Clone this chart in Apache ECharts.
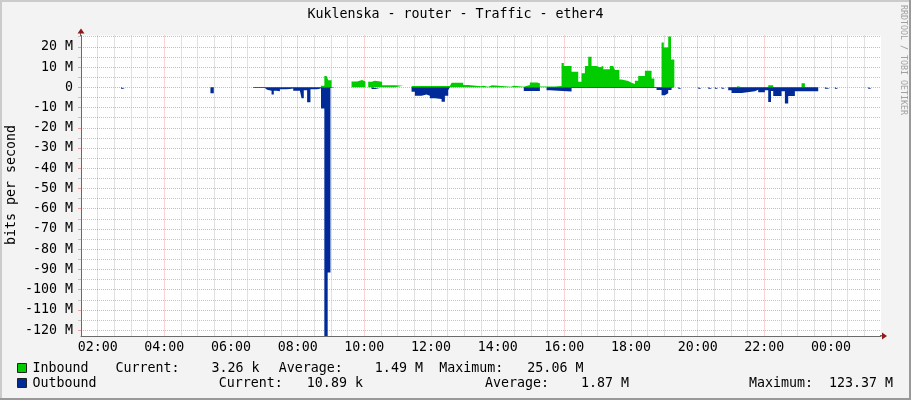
<!DOCTYPE html>
<html><head><meta charset="utf-8">
<script src="https://cdn.jsdelivr.net/npm/echarts@6/dist/echarts.min.js"></script>
<style>html,body{margin:0;padding:0;background:#F3F3F3}#c{width:911px;height:400px}</style>
</head><body><div id="c"></div>
<script>
// ---------- data ----------
const chartTitle = 'Kuklenska - router - Traffic - ether4';
const yAxisTitle = 'bits per second';
const watermark = 'RRDTOOL / TOBI OETIKER';
const windowStart = '01:30';           // 24 h window, 01:30 -> 01:30 next day
const xMajorLabels = ['02:00','04:00','06:00','08:00','10:00','12:00','14:00','16:00','18:00','20:00','22:00','00:00'];
const yMajorValues = [20,10,0,-10,-20,-30,-40,-50,-60,-70,-80,-90,-100,-110,-120];  // M bits/s
const yMinorValues = [25,15,5,-5,-15,-25,-35,-45,-55,-65,-75,-85,-95,-105,-115];
const yMax = 25.6, yMin = -122.9;

// step breakpoints: [time, value in Mbit/s] value holds until next point
const inbound = [
 ['01:30',0],
 ['08:42',0.8],['08:48',5.6],['08:52',5.2],['08:55',3.5],['09:01',0],
 ['09:37',2.9],['09:47',3.0],['09:50',3.6],['09:56',2.9],['10:02',0],
 ['10:07',2.7],['10:13',3.3],['10:19',2.8],['10:32',1.0],['10:55',0.8],['11:10',0],
 ['11:25',0.6],['12:34',0.6],['12:37',2.2],['12:58',1.1],['13:07',0.5],['13:30',0.8],['13:34',0.3],
 ['13:43',1.0],['13:50',0.3],['14:24',0.8],['14:29',0.3],['14:47',1.2],['14:58',2.4],['15:11',2.0],
 ['15:16',0.4],['15:43',0.7],
 ['15:55',12.0],['15:59',10.5],['16:13',7.7],['16:25',2.8],['16:31',6.9],['16:37',10.5],['16:43',15.1],
 ['16:49',10.5],['16:58',9.9],['17:04',10.5],['17:10',8.9],['17:22',10.5],['17:28',9.9],['17:31',8.6],
 ['17:39',3.9],['17:43',3.1],['17:55',2.3],['18:01',1.6],['18:07',3.3],['18:13',5.6],['18:25',8.2],
 ['18:37',4.4],['18:42',0],
 ['18:55',22.2],['18:59',19.7],['19:07',25.06],['19:12',13.8],['19:18',0],
 ['21:11',0.5],['21:18',0],['22:07',1.0],['22:16',0],['23:07',2.0],['23:13',0]
];
const outbound = [
 ['01:30',0],['02:42',-0.7],['02:49',0],
 ['05:23',-3.0],['05:29',0],
 ['06:40',-0.4],['07:01',-1.2],['07:05',-1.7],['07:13',-3.5],['07:17',-1.7],['07:22',-2.0],['07:28',-1.0],
 ['07:39',-0.8],['07:46',-0.6],['07:52',-1.7],['08:04',-1.0],['08:07',-5.4],['08:11',-1.5],['08:17',-7.4],
 ['08:23',-1.0],['08:34',-0.8],['08:38',-0.5],['08:42',-10.5],['08:48',-123.37],['08:54',-91.5],
 ['08:59',-0.4],['09:07',0],
 ['10:13',-0.8],['10:28',0],
 ['11:25',-2.2],['11:31',-4.2],['11:43',-3.5],['11:52',-4.2],['11:58',-5.4],['12:07',-5.8],['12:19',-7.1],
 ['12:25',-4.2],['12:31',-1.5],['12:34',0],
 ['14:47',-1.8],['15:16',0],['15:28',-1.4],['15:34',-1.7],['15:49',-2.1],['16:13',-0.3],
 ['18:46',-1.3],['18:55',-3.9],['19:01',-3.0],['19:07',-1.3],['19:13',-0.3],['19:18',0],
 ['19:25',-0.7],['19:31',0],
 ['20:01',-0.7],['20:07',0],['20:19',-0.7],['20:26',0],['20:31',-0.7],['20:37',0],['20:43',-0.7],['20:49',0],
 ['20:55',-1.5],['21:01',-2.8],['21:19',-2.0],['21:43',-1.2],['21:49',-2.5],['22:01',-1.5],['22:07',-7.3],
 ['22:12',-1.8],['22:16',-4.3],['22:31',-2.0],['22:37',-8.0],['22:43',-4.3],['22:55',-2.0],['23:37',0],
 ['23:49',-0.7],['23:58',0],['00:07',-0.7],['00:13',0],['01:07',-0.7],['01:13',0]
];
const legendRows = [
 {name:'Inbound',  color:'#00CC00', current:'Current:    3.26 k', average:'Average:    1.49 M', maximum:'Maximum:   25.06 M'},
 {name:'Outbound', color:'#002A97', current:'Current:   10.89 k', average:'Average:    1.87 M', maximum:'Maximum:  123.37 M'}
];

// ---------- helpers ----------
function toMinRaw(s){ const [h,m]=s.split(':').map(Number); return h*60+m; }
function toMin(s){ let v=toMinRaw(s); if(v<toMinRaw(windowStart)) v+=1440; return v; }
const xStart = toMinRaw(windowStart), xEnd = xStart + 1440;
// zero spans become gaps (null) so no degenerate area is drawn
function series(points){
  const d=[]; let prev=0;
  points.forEach(p=>{
    const t=toMin(p[0]), v=p[1];
    if(v===0){ if(prev!==0) d.push([t,prev]); d.push([t,null]); }
    else d.push([t,v]);
    prev=v;
  });
  if(prev!==0) d.push([xEnd,prev]);
  return d;
}
const xMajor = xMajorLabels.map(toMin);
const xMinor = []; for(let t=xStart+30; t<xEnd; t+=30){ if(xMajor.indexOf(t)<0) xMinor.push(t); }
function fmtTime(v){ const m=((v%1440)+1440)%1440; const h=Math.floor(m/60); return (h<10?'0':'')+h+':00'; }

const FONT = '"DejaVu Sans Mono", monospace';
const FS = 13.3;
const majorColor = 'rgba(235,0,0,0.35)';
const minorColor = '#C4C4C4';
const axisColor = '#6A6A6A';
const arrowColor = '#8E1A1A';

const chart = echarts.init(document.getElementById('c'), null, {renderer:'canvas'});

const graphic = [
 {type:'rect', shape:{x:0,y:0,width:911,height:2}, style:{fill:'#CBCBCB'}, silent:true},
 {type:'rect', shape:{x:0,y:0,width:2,height:400}, style:{fill:'#CBCBCB'}, silent:true},
 {type:'rect', shape:{x:0,y:398,width:911,height:2}, style:{fill:'#999999'}, silent:true},
 {type:'rect', shape:{x:909,y:0,width:2,height:400}, style:{fill:'#999999'}, silent:true},
 {type:'text', x:455.5, y:14.5, style:{text:chartTitle, font:FS+'px '+FONT, fill:'#000', align:'center', verticalAlign:'middle'}},
 {type:'text', x:12, y:185, rotation:Math.PI/2, style:{text:yAxisTitle, font:FS+'px '+FONT, fill:'#000', align:'center', verticalAlign:'middle'}},
 {type:'text', x:903, y:60, rotation:-Math.PI/2, style:{text:watermark, font:'8.3px '+FONT, fill:'#A0A0A0', align:'center', verticalAlign:'middle'}},
 {type:'line', shape:{x1:80.5,y1:36,x2:80.5,y2:32}, style:{stroke:axisColor,lineWidth:1}, z:10},
 {type:'polygon', shape:{points:[[77.5,33.5],[84.5,33.5],[81,28.5]]}, style:{fill:arrowColor}, z:10},
 {type:'line', shape:{x1:880,y1:335.5,x2:884,y2:335.5}, style:{stroke:axisColor,lineWidth:1}, z:10},
 {type:'polygon', shape:{points:[[882,332.5],[882,339.5],[887,336]]}, style:{fill:arrowColor}, z:10}
];
const rowY = [368.5, 383.5];
const colX = [[115.4, 278.8, 439.3],[218.8, 485, 749]];
legendRows.forEach((r,i)=>{
  graphic.push({type:'rect', shape:{x:17.5,y:rowY[i]-5,width:9,height:9}, style:{fill:r.color, stroke:'#222', lineWidth:1}});
  graphic.push({type:'text', x:32.5, y:rowY[i], style:{text:r.name, font:FS+'px '+FONT, fill:'#000', verticalAlign:'middle'}});
  [r.current, r.average, r.maximum].forEach((t,j)=>{
    graphic.push({type:'text', x:colX[i][j], y:rowY[i], style:{text:t, font:FS+'px '+FONT, fill:'#000', verticalAlign:'middle'}});
  });
});

const option = {
  animation:false,
  backgroundColor:'#F3F3F3',
  grid:{left:81, right:30, top:35.5, bottom:64, show:true, backgroundColor:'#FFFFFF', borderWidth:0},
  xAxis:[
    {type:'value', min:xStart, max:xEnd, position:'bottom',
     axisLine:{show:false}, axisTick:{show:false, customValues:xMinor}, axisLabel:{show:false},
     splitLine:{show:true, lineStyle:{color:minorColor, width:1, type:[1,1]}}},
    {type:'value', min:xStart, max:xEnd, position:'bottom',
     axisLine:{show:true, onZero:false, lineStyle:{color:axisColor, width:1}},
     axisTick:{show:false, customValues:xMajor},
     axisLabel:{customValues:xMajor, formatter:fmtTime, margin:5, fontFamily:'DejaVu Sans Mono', fontSize:FS, color:'#000'},
     splitLine:{show:true, lineStyle:{color:majorColor, width:1, type:[1,1]}}}
  ],
  yAxis:[
    {type:'value', min:yMin, max:yMax, position:'left',
     axisLine:{show:false}, axisTick:{show:true, length:3, customValues:yMinorValues, lineStyle:{color:minorColor}}, axisLabel:{show:false},
     splitLine:{show:true, lineStyle:{color:minorColor, width:1, type:[1,1]}}},
    {type:'value', min:yMin, max:yMax, position:'left',
     axisLine:{show:true, onZero:false, lineStyle:{color:axisColor, width:1}},
     axisTick:{show:true, length:3, customValues:yMajorValues, lineStyle:{color:majorColor}},
     axisLabel:{customValues:yMajorValues, formatter:v=>v===0?'0':(v+' M'), margin:8, fontFamily:'DejaVu Sans Mono', fontSize:FS, color:'#000'},
     splitLine:{show:true, lineStyle:{color:majorColor, width:1, type:[1,1]}}}
  ],
  series:[
    {name:'Inbound', type:'line', xAxisIndex:1, yAxisIndex:1, step:'end', symbol:'none', silent:true, connectNulls:false,
     data:series(inbound), lineStyle:{width:0, opacity:0}, itemStyle:{color:'#00CC00'}, areaStyle:{color:'#00CC00', opacity:1}},
    {name:'Outbound', type:'line', xAxisIndex:1, yAxisIndex:1, step:'end', symbol:'none', silent:true, connectNulls:false,
     data:series(outbound), lineStyle:{width:0, opacity:0}, itemStyle:{color:'#002A97'}, areaStyle:{color:'#002A97', opacity:1}}
  ],
  graphic: graphic
};
chart.setOption(option);
</script></body></html>
